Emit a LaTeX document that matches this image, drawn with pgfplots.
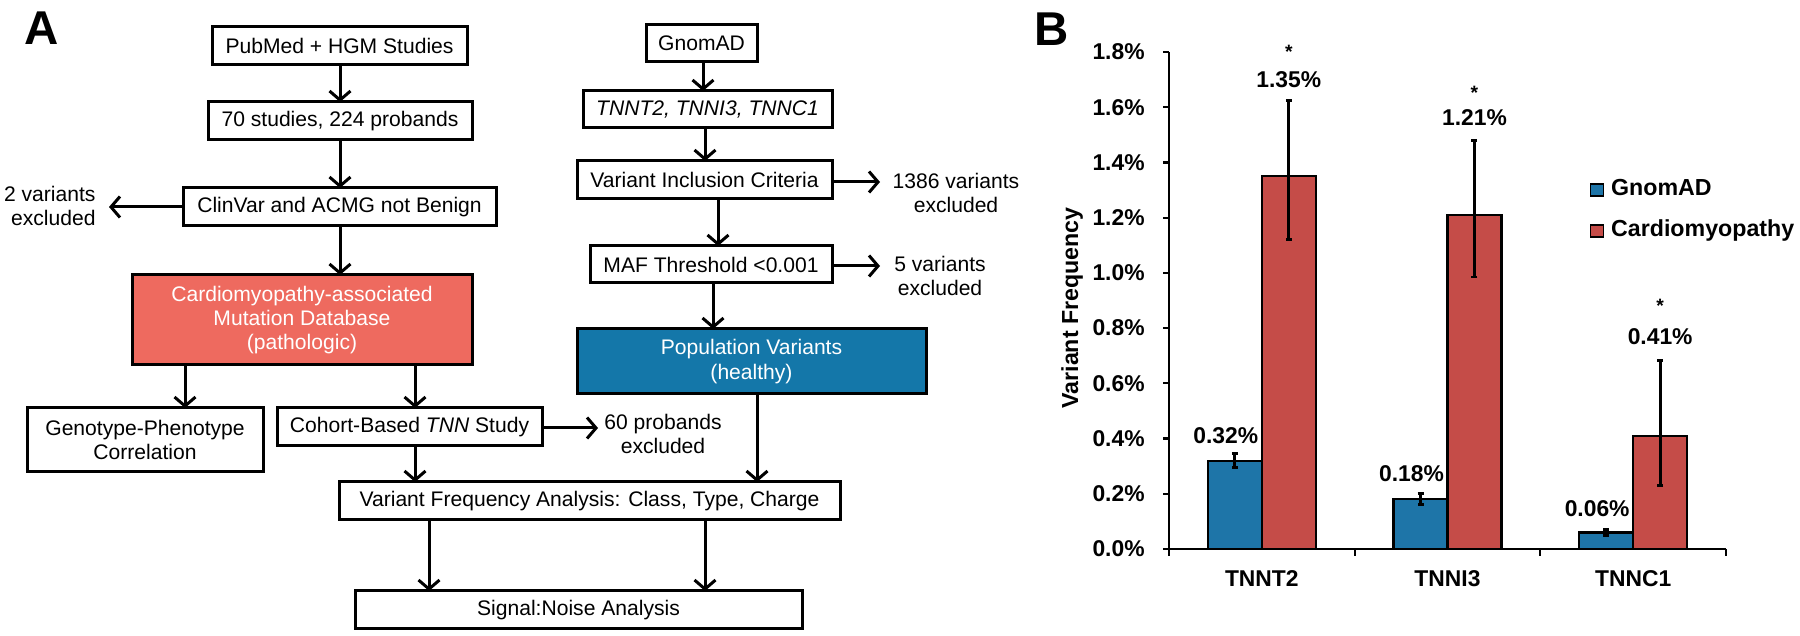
\documentclass[border=0pt]{standalone}
\usepackage{fontspec}
\setmainfont{Liberation Sans}
\usepackage{pgfplots}
\pgfplotsset{compat=1.18}
\usetikzlibrary{arrows.meta}
\definecolor{boxred}{RGB}{238,106,95}
\definecolor{boxblue}{RGB}{20,119,169}
\definecolor{barblue}{RGB}{30,117,168}
\definecolor{barred}{RGB}{197,76,72}
\begin{document}
\begin{tikzpicture}
\path[use as bounding box] (0,0) rectangle (180mm,-63.6mm);
\begin{scope}[x=0.1mm,y=-0.1mm, font=\fontsize{6}{6.9}\selectfont, line width=0.3mm,
  arr/.style={-{Straight Barb[length=0.9mm,width=2.1mm]}}]
\node[font=\fontsize{13.5}{14}\selectfont\bfseries] at (42,28) {A};
% left column
\draw (212,27) rectangle (467,65); \node at (339.5,46) {PubMed + HGM Studies};
\draw (208,102) rectangle (472,140); \node at (340,121) {70 studies, 224 probands};
\draw (183,188) rectangle (496,226); \node at (339.5,207) {ClinVar and ACMG not Benign};
\draw[fill=boxred] (132,275) rectangle (472,365);
\node[text=white, align=center] at (302,320) {Cardiomyopathy-associated\\Mutation Database\\(pathologic)};
\draw (27,408) rectangle (263,472); \node[align=center] at (145,440) {Genotype-Phenotype\\Correlation};
\draw (277,408) rectangle (542,446); \node at (409.5,427) {Cohort-Based \textit{TNN} Study};
\draw (339,482) rectangle (840,520); \node at (589.5,501) {Variant Frequency Analysis: Class, Type, Charge};
\draw (355,591) rectangle (802,629); \node at (578.5,610) {Signal:Noise Analysis};
\node[align=right, anchor=east, inner sep=0pt] at (97,206) {2 variants\\excluded};
\node[align=center] at (663,434) {60 probands\\excluded};
% right column
\draw (646,25) rectangle (757,62); \node at (701.5,43.5) {GnomAD};
\draw (583,91) rectangle (832,128); \node at (707.5,109.5) {\textit{TNNT2, TNNI3, TNNC1}};
\draw (577,161) rectangle (832,199); \node at (704.5,180) {Variant Inclusion Criteria};
\draw (590,246) rectangle (832,283); \node at (711,264.5) {MAF Threshold <0.001};
\draw[fill=boxblue] (577,329) rectangle (926,394);
\node[text=white, align=center] at (751.5,361.5) {Population Variants\\(healthy)};
\node[align=center] at (956,193) {1386 variants\\excluded};
\node[align=center] at (940,276) {5 variants\\excluded};
% arrows
\draw[arr] (340,65) -- (340,102);
\draw[arr] (340,140) -- (340,188);
\draw[arr] (340,226) -- (340,275);
\draw[arr] (183,207) -- (109,207);
\draw[arr] (185,365) -- (185,408);
\draw[arr] (415,365) -- (415,408);
\draw[arr] (542,428) -- (598,428);
\draw[arr] (415,446) -- (415,482);
\draw[arr] (757,394) -- (757,482);
\draw[arr] (429,520) -- (429,591);
\draw[arr] (705,520) -- (705,591);
\draw[arr] (703,62) -- (703,91);
\draw[arr] (705,128) -- (705,161);
\draw[arr] (832,182) -- (880,182);
\draw[arr] (718,199) -- (718,246);
\draw[arr] (832,266) -- (880,266);
\draw[arr] (713,283) -- (713,329);
\node[font=\fontsize{13.5}{14}\selectfont\bfseries] at (1052,29) {B};
\end{scope}
\begin{axis}[
  at={(116.9mm,-54.9mm)}, anchor=south west,
  scale only axis, width=55.7mm, height=49.7mm,
  xmin=-0.5, xmax=2.5, ymin=0, ymax=1.8,
  clip=false,
  axis lines=left, axis line style={-, line width=0.22mm},
  tick align=outside,
  major tick length=0.6mm, minor tick length=0.7mm,
  ytick={0,0.2,0.4,0.6,0.8,1.0,1.2,1.4,1.6,1.8},
  yticklabels={0.0\%,0.2\%,0.4\%,0.6\%,0.8\%,1.0\%,1.2\%,1.4\%,1.6\%,1.8\%},
  ytick style={line width=0.22mm, black},
  xtick={0,1,2}, xticklabels={TNNT2,TNNI3,TNNC1},
  major x tick style={draw=none},
  minor xtick={-0.5,0.5,1.5,2.5},
  minor x tick style={line width=0.22mm, black},
  tick label style={font=\bfseries\fontsize{6.5}{7}\selectfont},
  xticklabel style={yshift=-0.3mm},
  yticklabel style={xshift=-0.6mm},
  ylabel={Variant Frequency},
  every axis y label/.style={at={(axis description cs:-0.174,0.485)}, rotate=90, anchor=center,
    font=\bfseries\fontsize{6.6}{7}\selectfont},
  legend style={at={(axis description cs:0.754,0.759)}, anchor=north west, draw=none, fill=none,
    inner sep=0pt, font=\bfseries\fontsize{6.6}{7}\selectfont, row sep=0.5mm,
    /tikz/every even column/.append style={column sep=0.3mm}},
  legend cell align=left,
  legend image code/.code={\draw[#1, line width=0.15mm] (0mm,-0.6mm) rectangle (1.3mm,0.6mm);},
]
\addplot[ybar, bar width=5.4mm, bar shift=0pt, fill=barblue, draw=black, line width=0.22mm,
  error bars/.cd, y dir=both, y explicit,
  error bar style={line width=0.28mm, black},
  error mark options={rotate=90, mark size=0.3mm, line width=0.28mm, black}]
  coordinates {(-0.1454,0.32) +- (0,0.025) (0.8546,0.18) +- (0,0.02) (1.8546,0.06) +- (0,0.012)};
\addlegendentry{GnomAD}
\addplot[ybar, bar width=5.4mm, bar shift=0pt, fill=barred, draw=black, line width=0.22mm,
  error bars/.cd, y dir=both, y explicit,
  error bar style={line width=0.28mm, black},
  error mark options={rotate=90, mark size=0.3mm, line width=0.28mm, black}]
  coordinates {(0.1454,1.35) += (0,0.275) -= (0,0.228) (1.1454,1.21) += (0,0.27) -= (0,0.225) (2.1454,0.41) += (0,0.272) -= (0,0.18)};
\addlegendentry{Cardiomyopathy}
\begin{scope}[every node/.style={font=\bfseries\fontsize{6.5}{7}\selectfont}]
\node at (axis cs:0.1454,1.699) {1.35\%};
\node at (axis cs:1.1454,1.561) {1.21\%};
\node at (axis cs:2.1454,0.768) {0.41\%};
\node at (axis cs:-0.194,0.409) {0.32\%};
\node at (axis cs:0.806,0.272) {0.18\%};
\node at (axis cs:1.806,0.145) {0.06\%};
\end{scope}
\begin{scope}[every node/.style={font=\bfseries\fontsize{5.5}{6}\selectfont}]
\node at (axis cs:0.1454,1.80) {*};
\node at (axis cs:1.1454,1.652) {*};
\node at (axis cs:2.1454,0.880) {*};
\end{scope}
\end{axis}
\end{tikzpicture}
\end{document}
